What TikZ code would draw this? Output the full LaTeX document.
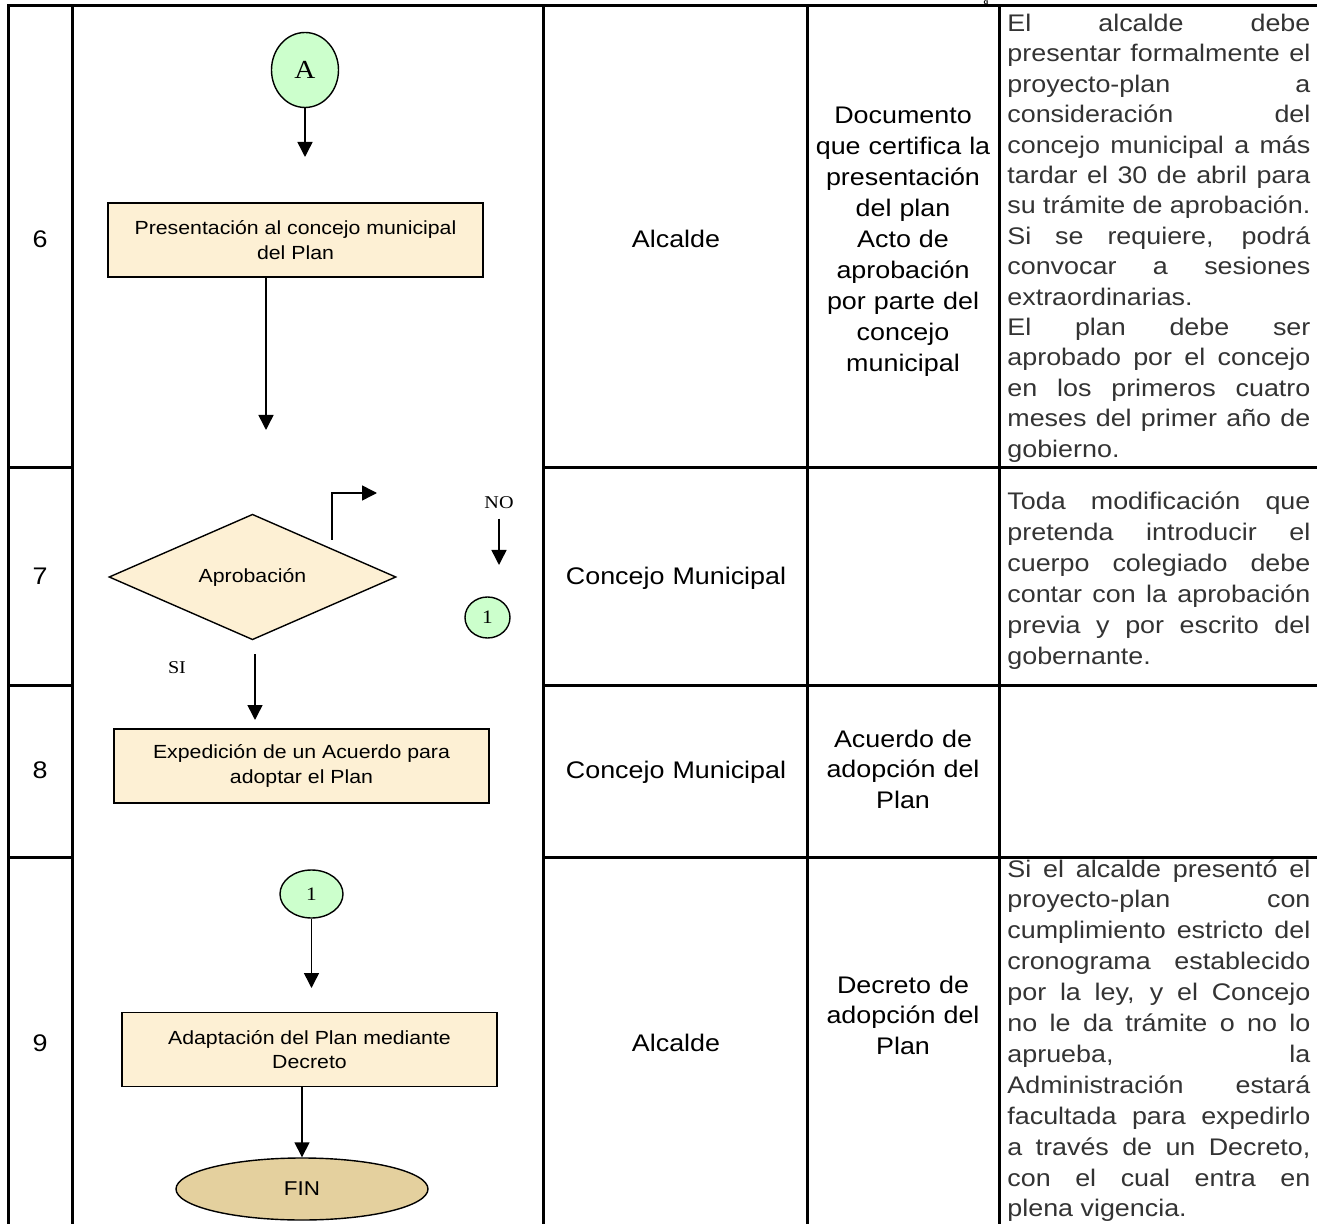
\documentclass[tikz,border=0pt]{standalone}
\usepackage{fontspec}
\setmainfont{Liberation Sans}[FakeStretch=1.12]
\newfontfamily\serifrm{Liberation Serif}[FakeStretch=1.12]
\usetikzlibrary{shapes.geometric,arrows.meta}
\definecolor{stepfill}{RGB}{253,240,212}
\definecolor{linkfill}{RGB}{204,255,204}
\definecolor{endfill}{RGB}{228,208,158}
\definecolor{notegray}{RGB}{51,51,51}
\newcommand{\cellfont}{\fontsize{12}{15.45}\selectfont}
\newcommand{\jline}[1]{{\spaceskip=0pt\xspaceskip=0pt\makebox[151.5pt][s]{#1}}}
\tikzset{
  rule/.style={line width=1.5pt},
  flow/.style={line width=0.75pt, -{Triangle[width=7.5pt,length=7.5pt]}},
  stepbox/.style={draw, line width=0.7pt, fill=stepfill, minimum width=187.5pt,
    minimum height=37pt, inner sep=0pt, align=center, font=\fontsize{9.5}{12.3}\selectfont},
  decision/.style={diamond, draw, line width=0.7pt, fill=stepfill, minimum width=143.5pt,
    minimum height=36pt, inner sep=0pt, font=\fontsize{9.5}{12.3}\selectfont},
  link/.style={ellipse, draw, line width=0.7pt, fill=linkfill, inner sep=0pt,
    font=\serifrm\fontsize{9.5}{11}\selectfont},
  terminal/.style={ellipse, draw, line width=0.7pt, fill=endfill, minimum width=126pt,
    minimum height=31pt, inner sep=0pt, font=\fontsize{10}{12}\selectfont},
  cell/.style={anchor=base, text width=120pt, align=center, inner sep=0pt, font=\cellfont},
  note/.style={anchor=base west, text width=151.5pt, align=justify, inner sep=0pt,
    font=\cellfont, text=notegray},
  branch/.style={anchor=base, inner sep=0pt, font=\serifrm\fontsize{9}{11}\selectfont}
}
\begin{document}
\begin{tikzpicture}[x=0.5pt,y=-0.5pt]
  \useasboundingbox (0,0) rectangle (1317,1224);
  \begin{scope}[rule]
    \draw (8,1224) -- (8,6) -- (1317,6);
    \draw (72,6) -- (72,1224);
    \draw (543,6) -- (543,1224);
    \draw (807,6) -- (807,1224);
    \draw (999,6) -- (999,1224);
    \draw (8,468) -- (72,468);
    \draw (543,468) -- (1317,468);
    \draw (8,685) -- (72,685);
    \draw (543,685) -- (1317,685);
    \draw (8,857) -- (72,857);
    \draw (543,857) -- (1317,857);
  \end{scope}
  \node[anchor=north, inner sep=0pt, font=\fontsize{3.5}{4}\selectfont\bfseries] (cut) at (986,0.4) {g};
  \draw
    (40,248) node[cell] (n6) {6}
    (40,585) node[cell] (n7) {7}
    (40,778) node[cell] (n8) {8}
    (40,1051) node[cell] (n9) {9}
    (676,248) node[cell] (who6) {Alcalde}
    (676,585) node[cell] (who7) {Concejo Municipal}
    (676,778) node[cell] (who8) {Concejo Municipal}
    (676,1051) node[cell] (who9) {Alcalde}
    (903,124) node[cell] (doc6) {Documento\\que certifica la\\presentación\\del plan\\Acto de\\aprobación\\por parte del\\concejo\\municipal}
    (903,747) node[cell] (doc8) {Acuerdo de\\adopción del\\Plan}
    (903,993) node[cell] (doc9) {Decreto de\\adopción del\\Plan};
  \node[note, font=\fontsize{12}{15.2}\selectfont] (obs6) at (1007,31.5) {\jline{El alcalde debe}\\
    \jline{presentar formalmente el}\\
    \jline{proyecto-plan a}\\
    \jline{consideración del}\\
    \jline{concejo municipal a más}\\
    \jline{tardar el 30 de abril para}\\
    \jline{su trámite de aprobación.}\\
    \jline{Si se requiere, podrá}\\
    \jline{convocar a sesiones}\\
    extraordinarias.\\
    \jline{El plan debe ser}\\
    \jline{aprobado por el concejo}\\
    \jline{en los primeros cuatro}\\
    \jline{meses del primer año de}\\
    gobierno.};
  \node[note] (obs7) at (1007,510) {\jline{Toda modificación que}\\
    \jline{pretenda introducir el}\\
    \jline{cuerpo colegiado debe}\\
    \jline{contar con la aprobación}\\
    \jline{previa y por escrito del}\\
    gobernante.};
  \node[note] (obs9) at (1007,877) {\jline{Si el alcalde presentó el}\\
    \jline{proyecto-plan con}\\
    \jline{cumplimiento estricto del}\\
    \jline{cronograma establecido}\\
    \jline{por la ley, y el Concejo}\\
    \jline{no le da trámite o no lo}\\
    \jline{aprueba, la}\\
    \jline{Administración estará}\\
    \jline{facultada para expedirlo}\\
    \jline{a través de un Decreto,}\\
    \jline{con el cual entra en}\\
    plena vigencia.};
  \node[link, minimum width=33.5pt, minimum height=37.5pt,
    font=\serifrm\fontsize{13}{15}\selectfont] (A) at (305,70) {A};
  \node[stepbox] (present) at (295.5,240) {Presentación al concejo municipal\\del Plan};
  \node[decision] (approve) at (252.5,577) {Aprobación};
  \node[link, minimum width=22.5pt, minimum height=20.5pt] (goto) at (487.5,617.5) {1};
  \node[stepbox] (agree) at (301.5,766) {Expedición de un Acuerdo para\\adoptar el Plan};
  \node[link, minimum width=31.5pt, minimum height=24pt] (from) at (311.5,894) {1};
  \node[stepbox] (decree) at (309.5,1049.5) {Adaptación del Plan mediante\\Decreto};
  \node[terminal] (fin) at (302,1189) {FIN};
  \node[branch] (no) at (499,509) {NO};
  \node[branch] (si) at (177,673) {SI};
  \coordinate (a0) at (305,157);
  \coordinate (p0) at (266,430);
  \coordinate (e0) at (332,540);
  \coordinate (e1) at (377,493);
  \coordinate (n0) at (499,565);
  \coordinate (s0) at (255,720);
  \coordinate (k0) at (311.5,988);
  \begin{scope}[flow]
    \draw (A) -- (a0);
    \draw (present.south -| p0) -- (p0);
    \draw (e0) |- (e1);
    \draw[shorten <=4.5pt] (no) -- (n0);
    \draw[shorten <=7pt] (approve.south -| s0) -- (s0);
    \draw (from) -- (k0);
    \draw (decree.south -| fin.north) -- (fin.north);
  \end{scope}
\end{tikzpicture}
\end{document}
